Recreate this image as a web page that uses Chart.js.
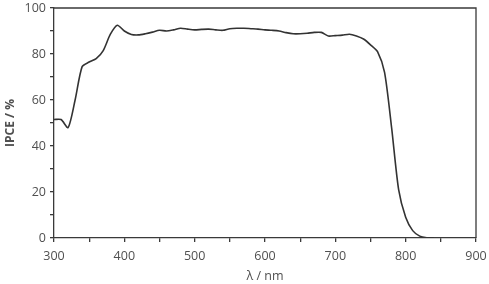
<!DOCTYPE html>
<html>
<head>
<meta charset="utf-8">
<script src="https://cdn.jsdelivr.net/npm/chart.js@4"></script>
<style>
  html, body { margin: 0; padding: 0; background: #fff; }
  #wrap { width: 489px; height: 284px; }
</style>
</head>
<body>
<div id="wrap"><canvas id="chart" width="489" height="284"></canvas></div>
<script>
// wavelength (nm) and IPCE (%)
var wavelengths = [300, 310, 320, 330, 340, 350, 360, 370, 380, 390,
                   400, 410, 420, 430, 440, 450, 460, 470, 480, 490,
                   500, 510, 520, 530, 540, 550, 560, 570, 580, 590,
                   600, 610, 620, 630, 640, 650, 660, 670, 680, 690,
                   700, 710, 720, 730, 740, 750, 760, 770, 780, 790,
                   800, 810, 820, 830, 840];
var ipce = [51.5, 51.5, 48, 60, 74.5, 76.5, 78, 81.5, 88.5, 92.5,
            90, 88.5, 88.3, 88.8, 89.5, 90.3, 90, 90.5, 91.2, 90.8,
            90.5, 90.7, 90.8, 90.5, 90.3, 91, 91.2, 91.2, 91, 90.8,
            90.5, 90.3, 90, 89.3, 88.8, 88.8, 89, 89.4, 89.4, 87.8,
            88, 88.2, 88.6, 87.8, 86.5, 84, 81, 72, 48, 21,
            9, 3.2, 0.8, 0.1, 0];

var xTicks = [300, 400, 500, 600, 700, 800, 900];
var yTicks = [0, 20, 40, 60, 80, 100];

var points = wavelengths.map(function (w, i) { return {x: w, y: ipce[i]}; });

var axisColor = '#3a3a3a';
var textColor = '#505050';

// closes the frame on top and right
var frame = {
  id: 'frame',
  afterDraw: function (chart) {
    var a = chart.chartArea, ctx = chart.ctx;
    ctx.save();
    ctx.strokeStyle = axisColor;
    ctx.lineWidth = 1.3;
    ctx.beginPath();
    ctx.moveTo(a.left, a.top);
    ctx.lineTo(a.right, a.top);
    ctx.lineTo(a.right, a.bottom);
    ctx.stroke();
    ctx.restore();
  }
};

new Chart(document.getElementById('chart'), {
  type: 'line',
  data: {
    datasets: [{
      data: points,
      borderColor: '#333333',
      borderWidth: 1.6,
      pointRadius: 0,
      tension: 0.25,
      fill: false
    }]
  },
  options: {
    responsive: false,
    animation: false,
    layout: { padding: { left: 3, right: 13, top: 8, bottom: 0 } },
    plugins: { legend: { display: false }, tooltip: { enabled: false } },
    scales: {
      x: {
        type: 'linear',
        min: 300, max: 900,
        afterFit: function (s) { s.height = 46; s.paddingLeft = 0; s.paddingRight = 0; },
        border: { color: axisColor, width: 1.3 },
        grid: { drawOnChartArea: false, tickLength: 4, color: axisColor, lineWidth: 1.3 },
        ticks: {
          stepSize: 50,
          padding: 7,
          maxRotation: 0,
          color: textColor,
          font: { family: 'Open Sans', size: 12.5 },
          callback: function (v) { return xTicks.indexOf(v) >= 0 ? String(v) : ''; }
        },
        title: {
          display: true,
          text: 'λ / nm',
          color: textColor,
          font: { family: 'Open Sans', size: 12.5 },
          padding: { top: 5, bottom: 0 }
        }
      },
      y: {
        min: 0, max: 100,
        afterFit: function (s) { s.width = 51; s.paddingTop = 0; s.paddingBottom = 0; },
        border: { color: axisColor, width: 1.3 },
        grid: { drawOnChartArea: false, tickLength: 4, color: axisColor, lineWidth: 1.3 },
        ticks: {
          stepSize: 10,
          padding: 4,
          color: textColor,
          font: { family: 'Open Sans', size: 12.5 },
          callback: function (v) { return yTicks.indexOf(v) >= 0 ? String(v) : ''; }
        },
        title: {
          display: true,
          text: 'IPCE / %',
          color: textColor,
          font: { family: 'Open Sans', size: 12, weight: 'bold' },
          padding: { top: 0, bottom: 2 }
        }
      }
    }
  },
  plugins: [frame]
});
</script>
</body>
</html>
